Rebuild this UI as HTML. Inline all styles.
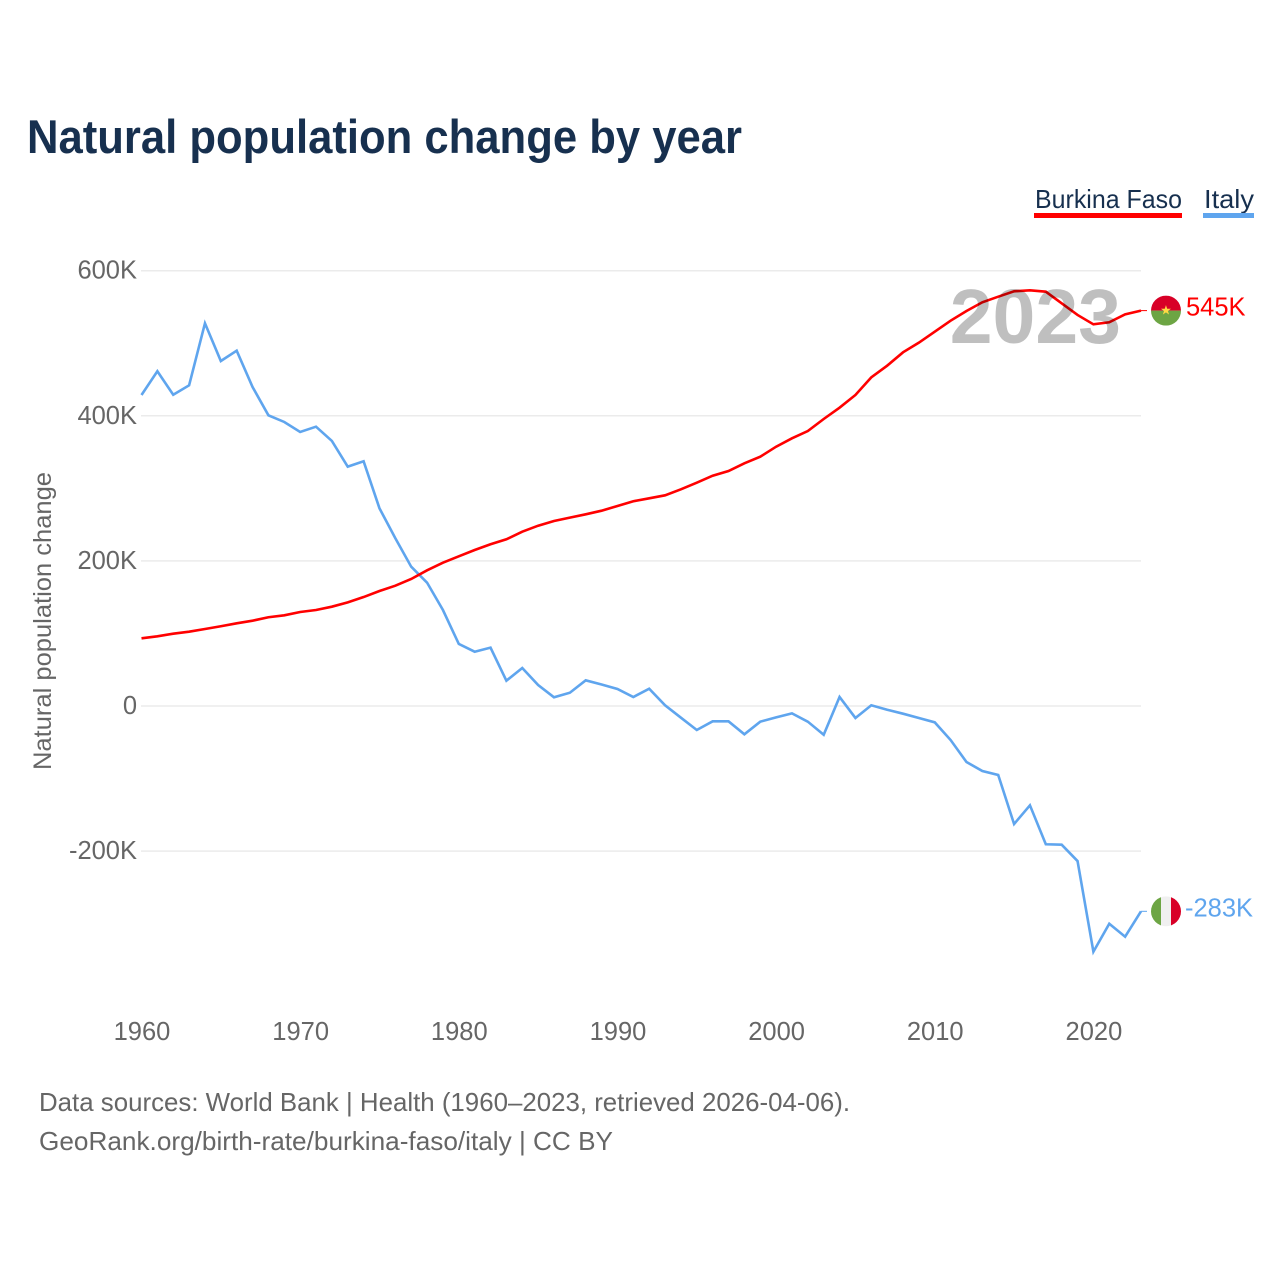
<!DOCTYPE html>
<html lang="en">
<head>
<meta charset="utf-8">
<title>Natural population change by year</title>
<style>
  html, body { margin: 0; padding: 0; background: #fff; }
  svg { display: block; font-family: "Liberation Sans", sans-serif; }
</style>
</head>
<body>
<svg id="chart" xmlns="http://www.w3.org/2000/svg" width="1280" height="1280" viewBox="0 0 1280 1280">
  <rect width="1280" height="1280" fill="#ffffff"/>
  <text x="27" y="153" font-size="47" font-weight="700" fill="#17304f" textLength="715" lengthAdjust="spacingAndGlyphs">Natural population change by year</text>

  <g>
    <text x="1035" y="208" font-size="26" fill="#17304f" textLength="147" lengthAdjust="spacingAndGlyphs">Burkina Faso</text>
    <rect x="1034" y="213" width="148" height="5" fill="#ff0000"/>
  </g>
  <g>
    <text x="1204" y="208" font-size="26" fill="#17304f" textLength="50" lengthAdjust="spacingAndGlyphs">Italy</text>
    <rect x="1203" y="213" width="51" height="5" fill="#5fa5ee"/>
  </g>

  <g id="grid"></g>
  <g id="yticks" font-size="25.5" fill="#666666" text-anchor="end"></g>
  <g id="xticks" font-size="25.5" fill="#666666" text-anchor="middle"></g>
  <text transform="translate(51,621) rotate(-90)" font-size="25" fill="#666666" text-anchor="middle" textLength="298" lengthAdjust="spacingAndGlyphs">Natural population change</text>

  <g id="series"></g>

  <text x="1121" y="343" font-size="77" font-weight="700" fill="#000000" fill-opacity="0.25" text-anchor="end">2023</text>

  <g id="markers"></g>

  <text x="39" y="1111" font-size="26" fill="#666666" textLength="811" lengthAdjust="spacingAndGlyphs">Data sources: World Bank | Health (1960–2023, retrieved 2026-04-06).</text>
  <text x="39" y="1150" font-size="26" fill="#666666" textLength="574" lengthAdjust="spacingAndGlyphs">GeoRank.org/birth-rate/burkina-faso/italy | CC BY</text>
</svg>
<script>
const startYear = 1960;
const burkinaFaso = [93.3,96.1,99.7,102.4,106.1,109.9,114,117.6,122.3,125,129.6,132.3,136.9,142.9,150.2,158.5,165.8,175.1,187,197.5,206.3,215,222.9,229.8,240.3,248.5,255,259.6,264.2,269.2,275.7,282.2,286.3,290.4,298.7,307.8,317.4,323.9,334.5,343.6,357.4,369,379,395.6,411.2,428.7,453,469.1,487.5,500.8,516,531.1,544.5,556.5,564.2,571.6,573,571.1,555,539,526.1,528.9,539.9,545];
const italy = [428.7,461.4,429,442,527.5,475.5,489.7,439.7,400.7,391.5,377.7,385,365.3,329.9,337.3,272.5,231.2,192,170,132.3,85.5,74.8,80.4,34.9,52.4,28.9,12,18.3,35.4,29.6,23.4,12.4,23.8,1,-16.1,-33.1,-21.1,-21.1,-39,-21.6,-15.6,-10.1,-21.6,-39.6,12.4,-16.5,1,-5.1,-10.6,-16.5,-22.5,-46.9,-77.2,-89.6,-95.1,-162.7,-136.9,-190.6,-191.2,-213.7,-338.7,-300.1,-318,-283];
const yTickValues = [600, 400, 200, 0, -200];
const yTickLabels = ["600K", "400K", "200K", "0", "-200K"];
const xTickYears = [1960, 1970, 1980, 1990, 2000, 2010, 2020];
const burkinaLabel = "545K";
const italyLabel = "-283K";

const NS = "http://www.w3.org/2000/svg";
function xScale(year) { return 141.5 + (year - 1960) * (1141 - 141.5) / 63; }
function yScale(value) { return 706 - value * 0.7255; }
function make(tag, attrs, parent) {
  const el = document.createElementNS(NS, tag);
  for (const k in attrs) el.setAttribute(k, attrs[k]);
  parent.appendChild(el);
  return el;
}
const grid = document.getElementById("grid");
const yticks = document.getElementById("yticks");
const xticks = document.getElementById("xticks");
const series = document.getElementById("series");
const markers = document.getElementById("markers");

yTickValues.forEach(function (v, i) {
  const line = make("line", {x1: 141, x2: 1141, y1: yScale(v), y2: yScale(v), stroke: "#ebebeb", "stroke-width": 1.5}, grid);
  
  
  const t = make("text", {x: 137, y: yScale(v) + 8}, yticks);
  
  
  t.textContent = yTickLabels[i];
});
xTickYears.forEach(function (yr) {
  const t = make("text", {x: xScale(yr) + 0.5, y: 1040}, xticks);
  
  
  t.textContent = yr;
});
function drawLine(values, color, name) {
  const pts = values.map(function (v, i) { return xScale(startYear + i).toFixed(2) + "," + yScale(v).toFixed(2); }).join(" ");
  const p = make("polyline", {points: pts, fill: "none", stroke: color, "stroke-width": 2.6, "stroke-linejoin": "miter"}, series);
  
  
  const last = values[values.length - 1];
  const c = make("line", {x1: xScale(startYear + values.length - 1), x2: 1147, y1: yScale(last), y2: yScale(last), stroke: color, "stroke-width": 1}, series);
  
  
}
drawLine(italy, "#5fa5ee", "line-italy");
drawLine(burkinaFaso, "#ff0000", "line-burkina-faso");

function endY(values) { return yScale(values[values.length - 1]); }
const defs = make("defs", {}, markers);
function clip(id, cy) {
  const cp = make("clipPath", {id: id}, defs);
  make("circle", {cx: 1166, cy: cy, r: 15}, cp);
}
const by = endY(burkinaFaso);
const iy = endY(italy);
clip("clip-bf", by);
clip("clip-it", iy);

const bf = make("g", {"clip-path": "url(#clip-bf)"}, markers);


make("rect", {x: 1151, y: by - 15, width: 30, height: 15, fill: "#d80027"}, bf);
make("rect", {x: 1151, y: by, width: 30, height: 15, fill: "#6da544"}, bf);
const star = make("text", {x: 1166, y: by + 4, "font-size": 13, fill: "#ffda44", "text-anchor": "middle"}, bf);
star.style.fontFamily = '"DejaVu Sans", sans-serif';
star.textContent = "★";

const it = make("g", {"clip-path": "url(#clip-it)"}, markers);


make("rect", {x: 1151, y: iy - 15, width: 10, height: 30, fill: "#6da544"}, it);
make("rect", {x: 1161, y: iy - 15, width: 10, height: 30, fill: "#f0f0f0"}, it);
make("rect", {x: 1171, y: iy - 15, width: 10, height: 30, fill: "#d80027"}, it);

const bl = make("text", {x: 1186, y: by + 5, "font-size": 25.5, fill: "#ff0000"}, markers);


bl.textContent = burkinaLabel;
const il = make("text", {x: 1185, y: iy + 5, "font-size": 25.5, fill: "#5fa5ee"}, markers);


il.textContent = italyLabel;
</script>
</body>
</html>
